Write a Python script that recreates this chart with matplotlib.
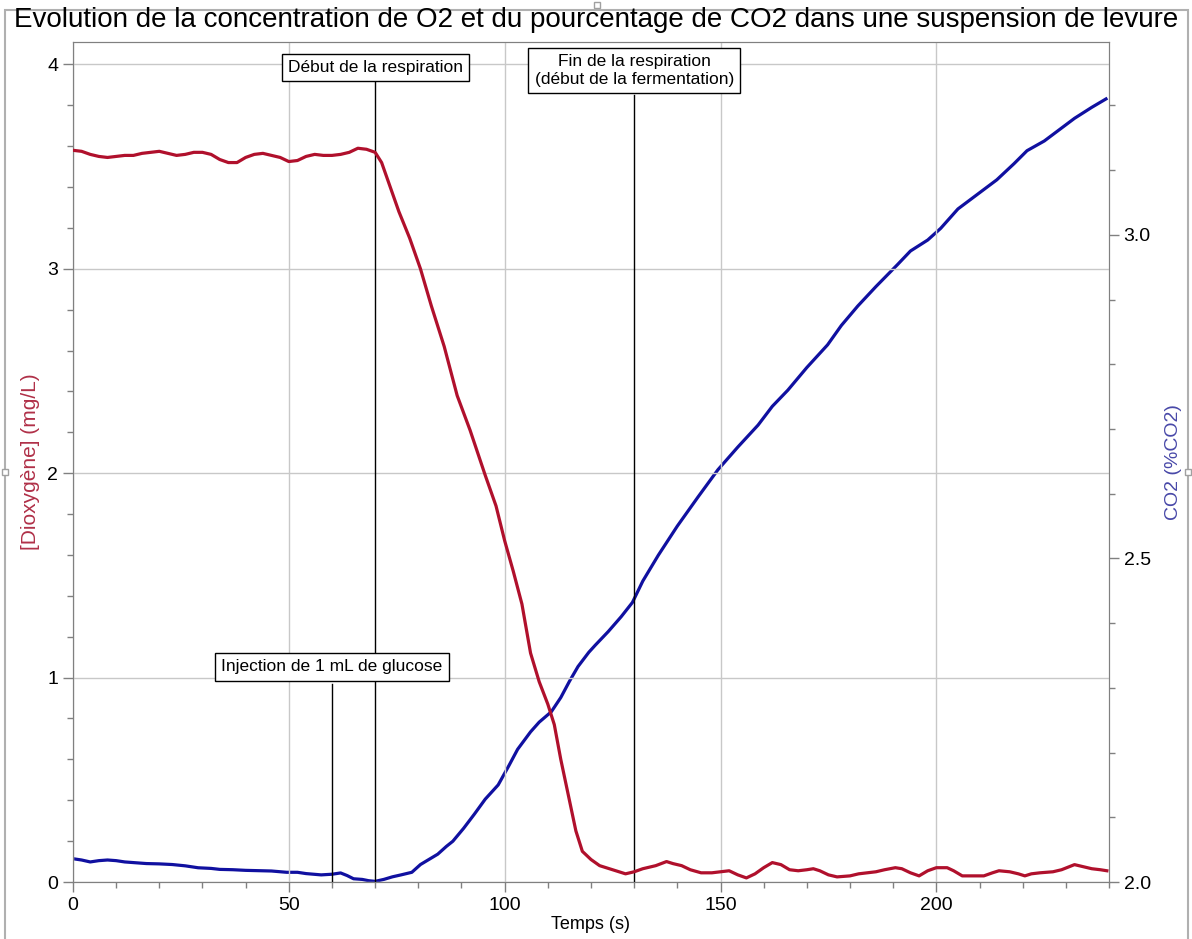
import matplotlib
matplotlib.use("Agg")
import matplotlib.pyplot as plt
from matplotlib.ticker import MultipleLocator, FormatStrFormatter
from matplotlib.patches import Rectangle

plt.rcParams["font.family"] = ["Liberation Sans", "DejaVu Sans"]

# --- donnees ---
t_o2 = [0, 2, 4, 6, 8, 10, 12, 14, 16, 18, 20, 22, 24, 26, 28, 30, 32, 34, 36, 38,
        40, 42, 44, 46, 48, 50, 52, 54, 56, 58, 60, 62, 64, 66, 68, 70, 71.5, 73,
        75.5, 78, 80.5, 83, 86, 89, 92, 95.5, 98, 100, 102, 104, 106, 108, 110,
        111.5, 113, 115, 116.5, 118, 120, 122, 125, 128, 130, 132, 135, 137.5, 139,
        141, 143, 145.5, 148, 150, 152, 154, 156, 158, 160, 162, 164, 166, 168, 170,
        171.5, 173, 175, 177, 180, 182, 184, 186, 188, 190.5, 192, 194, 196, 198,
        200, 202.5, 204, 206, 208, 211, 213, 214.5, 217, 219, 220.5, 222, 224, 227,
        229, 232, 234, 236, 238, 239.5]
o2 = [3.58, 3.575, 3.56, 3.55, 3.545, 3.55, 3.555, 3.555, 3.565, 3.57, 3.575, 3.565,
      3.555, 3.56, 3.57, 3.57, 3.56, 3.535, 3.52, 3.52, 3.545, 3.56, 3.565, 3.555,
      3.545, 3.525, 3.53, 3.55, 3.56, 3.555, 3.555, 3.56, 3.57, 3.59, 3.585, 3.57,
      3.52, 3.43, 3.28, 3.15, 3.00, 2.82, 2.62, 2.38, 2.21, 1.99, 1.84, 1.67, 1.52,
      1.36, 1.12, 0.98, 0.87, 0.77, 0.60, 0.40, 0.25, 0.15, 0.11, 0.08, 0.06, 0.04,
      0.05, 0.065, 0.08, 0.10, 0.09, 0.08, 0.06, 0.045, 0.045, 0.05, 0.055, 0.035,
      0.02, 0.04, 0.07, 0.095, 0.085, 0.06, 0.055, 0.06, 0.065, 0.055, 0.035, 0.025,
      0.03, 0.04, 0.045, 0.05, 0.06, 0.07, 0.065, 0.045, 0.03, 0.055, 0.07, 0.07,
      0.055, 0.03, 0.03, 0.03, 0.045, 0.055, 0.05, 0.04, 0.03, 0.04, 0.045, 0.05,
      0.06, 0.085, 0.075, 0.065, 0.06, 0.055]

t_co2 = [0, 2, 4, 6, 8, 10, 12, 14, 17, 20, 23, 26, 29, 32, 34, 37, 40, 43, 46, 49.5,
         52, 54, 57.5, 60, 62, 63.5, 65, 67, 68.5, 70, 72, 74, 76, 78.5, 80.5, 82.5,
         84.5, 86.5, 88, 90.5, 93, 95.5, 98.5, 101, 103, 106, 108, 110.8, 113, 115,
         117, 119.5, 121, 124, 127, 129.6, 132, 135.6, 140, 144.8, 149.4, 154, 158.7,
         162, 165.6, 170, 174.8, 178, 181.8, 186, 191, 194, 198, 201, 205, 209, 214,
         218, 221, 225, 228, 232, 236, 239.3]
co2 = [2.036, 2.034, 2.031, 2.033, 2.034, 2.033, 2.031, 2.030, 2.0285, 2.028, 2.027,
       2.025, 2.022, 2.021, 2.0195, 2.019, 2.018, 2.0175, 2.017, 2.015, 2.015, 2.013,
       2.011, 2.012, 2.014, 2.010, 2.005, 2.004, 2.002, 2.001, 2.004, 2.008, 2.011,
       2.015, 2.027, 2.035, 2.043, 2.055, 2.063, 2.083, 2.105, 2.128, 2.15, 2.18,
       2.205, 2.232, 2.247, 2.263, 2.285, 2.31, 2.333, 2.355, 2.366, 2.387, 2.41,
       2.432, 2.465, 2.505, 2.55, 2.595, 2.637, 2.672, 2.706, 2.735, 2.76, 2.795,
       2.83, 2.86, 2.89, 2.92, 2.954, 2.975, 2.992, 3.01, 3.04, 3.06, 3.085, 3.11,
       3.13, 3.145, 3.16, 3.18, 3.197, 3.21]

# evenements (temps, texte, hauteur du cadre en mg/L)
evt_t = [60, 70, 130]
evt_txt = ["Injection de 1 mL de glucose", "Début de la respiration",
           "Fin de la respiration\n(début de la fermentation)"]
evt_y = [1.052, 3.984, 3.97]
evt_bottom = [0.969, 3.916, 3.852]

rouge = "#b0102c"
bleu = "#1010a0"
gris = "#808080"

fig = plt.figure(figsize=(11.92, 9.39), dpi=100)
ax = fig.add_axes([0.0612, 0.0607, 0.8692, 0.8946])
ax2 = ax.twinx()

ax.set_xlim(0, 240)
ax.set_ylim(0, 4.11)
ax2.set_ylim(2.0, 3.298)

ax.grid(True, which="major", color="#c8c8c8", linewidth=1)
ax.set_axisbelow(True)

for t, b in zip(evt_t, evt_bottom):
    ax.plot([t, t], [0, b], color="black", linewidth=1, zorder=3)

ax2.plot(t_co2, co2, color=bleu, linewidth=2.3, zorder=4)
ax.plot(t_o2, o2, color=rouge, linewidth=2.3, zorder=4)
ax.set_zorder(ax2.get_zorder() + 1)
ax.patch.set_visible(False)

for t, txt, y in zip(evt_t, evt_txt, evt_y):
    ax.text(t, y, txt, ha="center", va="center", fontsize=12.5, zorder=6,
            bbox=dict(boxstyle="square,pad=0.35", facecolor="white",
                      edgecolor="black", linewidth=1))

ax.xaxis.set_major_locator(MultipleLocator(50))
ax.xaxis.set_minor_locator(MultipleLocator(10))
ax.yaxis.set_major_locator(MultipleLocator(1))
ax.yaxis.set_minor_locator(MultipleLocator(0.2))
ax2.yaxis.set_major_locator(MultipleLocator(0.5))
ax2.yaxis.set_minor_locator(MultipleLocator(0.1))
ax2.yaxis.set_major_formatter(FormatStrFormatter("%.1f"))

for a in (ax, ax2):
    for s in a.spines.values():
        s.set_color(gris)
    a.tick_params(which="major", length=7, width=1, color=gris, labelsize=14)
    a.tick_params(which="minor", length=4, width=1, color=gris)

ax.set_xlabel("Temps (s)", fontsize=13, labelpad=2)
ax.set_ylabel("[Dioxygène] (mg/L)", fontsize=15, color="#b03048", labelpad=5)
ax2.set_ylabel("CO2 (%CO2)", fontsize=14, color="#4848a8", labelpad=10)

fig.suptitle("Evolution de la concentration de O2 et du pourcentage de CO2 dans une suspension de levure",
             fontsize=20, x=0.5, y=0.993, va="top")

# cadre gris de la capture, avec ses petites poignees
fig.patches.append(Rectangle((5 / 1192, -0.01), 1183 / 1192, 0.005 + (934 / 939),
                             transform=fig.transFigure, fill=False,
                             edgecolor="#b0b0b0", linewidth=1.5))
for hx, hy in [(597, 5), (5, 472), (1188, 472)]:
    fig.patches.append(Rectangle(((hx - 3) / 1192, (939 - hy - 3) / 939), 6 / 1192, 6 / 939,
                                 transform=fig.transFigure, facecolor="white",
                                 edgecolor="#a0a0a0", linewidth=1))

fig.savefig("out.png", dpi=100)
